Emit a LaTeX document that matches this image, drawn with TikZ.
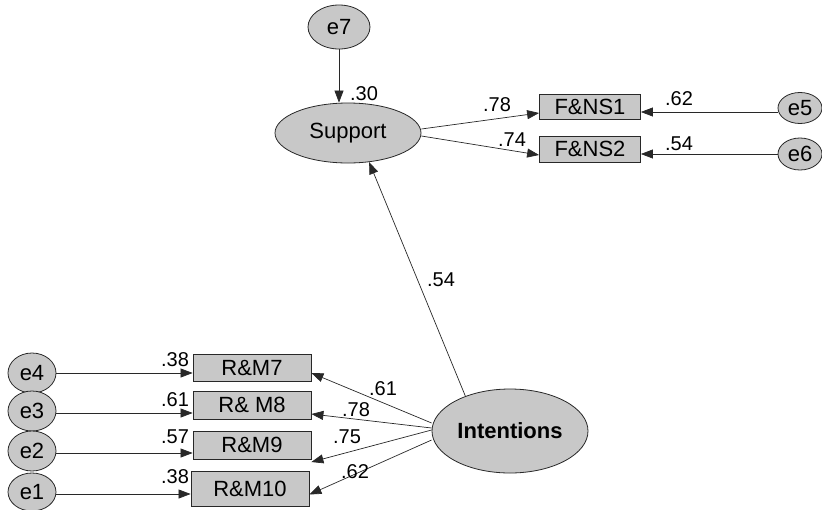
\documentclass[tikz,border=0pt]{standalone}
\usepackage{fontspec}
\setmainfont{Liberation Sans}
\usetikzlibrary{shapes.geometric,arrows.meta,calc}
\definecolor{nodefill}{RGB}{200,200,200}
\definecolor{edge}{RGB}{40,40,40}
\tikzset{
  lat/.style={ellipse,draw=edge,fill=nodefill,line width=0.8pt,inner sep=0pt,font=\fontsize{22}{22}\selectfont},
  obs/.style={rectangle,draw=edge,fill=nodefill,line width=0.8pt,inner sep=0pt,font=\fontsize{22}{22}\selectfont},
  lbl/.style={inner sep=0pt,font=\fontsize{20}{20}\selectfont},
  arr/.style={-{Triangle[length=12pt,width=9pt]},draw=edge,line width=0.7pt}
}
\begin{document}
\begin{tikzpicture}[x=1pt,y=-1pt]
\useasboundingbox (0,0) rectangle (822,509);
% latent
\node[lat,minimum width=62,minimum height=44] (e7) at (339,27) {e7};
\node[lat,minimum width=146,minimum height=60] (sup) at (348,133) {Support};
\node[lat,minimum width=156,minimum height=84,font=\fontsize{22}{22}\selectfont\bfseries] (int) at (510,431) {Intentions};
% F&NS
\node[obs,minimum width=101,minimum height=25] (fns1) at (590,107) {F\&NS1};
\node[obs,minimum width=101,minimum height=26] (fns2) at (590,149) {F\&NS2};
\node[lat,minimum width=44,minimum height=31] (e5) at (800,108) {e5};
\node[lat,minimum width=44,minimum height=32] (e6) at (800,154) {e6};
% R&M
\node[obs,minimum width=118,minimum height=27] (rm7) at (252,368) {R\&M7};
\node[obs,minimum width=118,minimum height=28] (rm8) at (252,405) {R\& M8};
\node[obs,minimum width=118,minimum height=28] (rm9) at (252,445) {\raisebox{-3pt}{R\&M9}};
\node[obs,minimum width=118,minimum height=35] (rm10) at (250,488.5) {R\&M10};
\node[lat,minimum width=48,minimum height=40] (e4) at (32,373) {e4};
\node[lat,minimum width=48,minimum height=40] (e3) at (32,411) {e3};
\node[lat,minimum width=48,minimum height=40] (e2) at (32,451) {e2};
\node[lat,minimum width=48,minimum height=38] (e1) at (32,492) {e1};
% connectors
\draw[arr] (e7.south) -- (e7.south |- sup.north);
\draw[arr] ($(sup.east)+(0,-4)$) -- ($(fns1.west)+(0,6)$);
\draw[arr] ($(sup.east)+(0,3)$) -- ($(fns2.west)+(0,6)$);
\draw[arr] ($(e5.west)+(0,4)$) -- ($(fns1.east)+(0,5)$);
\draw[arr] (e6.west) -- ($(fns2.east)+(0,5)$);
\draw[arr] (int.142) -- (sup.-54);
\draw[arr] ($(int.west)+(0,-8)$) -- ($(rm7.east)+(0,5)$);
\draw[arr] ($(int.west)+(0,-3)$) -- ($(rm8.east)+(0,9)$);
\draw[arr] ($(int.west)+(0,-1)$) -- ($(rm9.east)+(0,17)$);
\draw[arr] ($(int.west)+(0,9)$) -- ($(rm10.east)+(0,6)$);
\draw[arr] (e4.east) -- (e4.east -| rm7.west);
\draw[arr] ($(e3.east)+(0,2)$) -- ($(e3.east -| rm8.west)+(0,2)$);
\draw[arr] ($(e2.east)+(0,2)$) -- ($(e2.east -| rm9.west)+(0,2)$);
\draw[arr] ($(e1.east)+(0,2)$) -- ($(e1.east -| rm10.west)+(0,2)$);
% labels
\node[lbl] (l30) at (364,94) {.30};
\node[lbl] (l78a) at (497,105) {.78};
\node[lbl] (l74) at (512,140) {.74};
\node[lbl] (l62a) at (679,99) {.62};
\node[lbl] (l54a) at (679,144) {.54};
\node[lbl] (l54b) at (441,280) {.54};
\node[lbl] (l38a) at (175,360) {.38};
\node[lbl] (l61a) at (175,400) {.61};
\node[lbl] (l57) at (175,437) {.57};
\node[lbl] (l38b) at (175,477) {.38};
\node[lbl] (l61b) at (383,389) {.61};
\node[lbl] (l78b) at (356,410) {.78};
\node[lbl] (l75) at (347,437) {.75};
\node[lbl] (l62b) at (355,472) {.62};
\end{tikzpicture}
\end{document}
